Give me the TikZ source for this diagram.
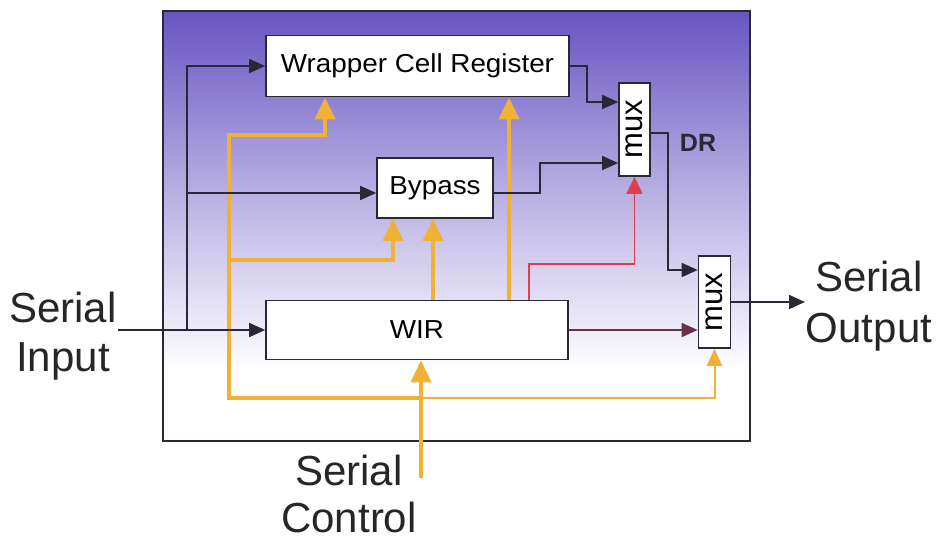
\documentclass[tikz,border=0pt]{standalone}
\usepackage{fontspec}
\setmainfont{Liberation Sans}
\newfontfamily\boxfont{Liberation Sans}[FakeStretch=1.07]
\usetikzlibrary{arrows.meta}
\definecolor{ln}{RGB}{40,40,55}
\definecolor{org}{RGB}{240,178,52}
\definecolor{rd}{RGB}{226,62,82}
\definecolor{mar}{RGB}{105,50,70}
\definecolor{purp}{RGB}{104,84,194}
\begin{document}
\begin{tikzpicture}[x=1pt,y=-1pt,
  box/.style={draw=ln, line width=1.6pt, fill=white, inner sep=0pt, font=\boxfont\fontsize{26}{30}\selectfont},
  muxbox/.style={draw=ln, line width=1.6pt, fill=white, inner sep=0pt, minimum width=31pt, minimum height=93pt},
  muxtxt/.style={rotate=90, inner sep=0pt, font=\fontsize{31}{33}\selectfont},
  big/.style={inner sep=0pt, align=center, text=black!85},
  sig/.style={draw=ln, line width=1.6pt, -{Triangle[length=16pt,width=14pt]}},
  sigm/.style={draw=mar, line width=1.6pt, -{Triangle[length=16pt,width=14pt]}},
  redl/.style={draw=rd, line width=1.6pt, -{Triangle[length=17pt,width=16pt]}},
  orgk/.style={draw=org, line width=3.5pt, -{Triangle[length=22pt,width=20pt]}},
  orgt/.style={draw=org, line width=2pt, -{Triangle[length=17pt,width=15pt]}}]
\useasboundingbox (0,0) rectangle (938,541);
\fill[white] (0,0) rectangle (938,541);
% background
\shade[top color=purp, bottom color=white, middle color=purp!47] (163,11) rectangle (750,372);
\node[draw=ln, line width=1.6pt, inner sep=0pt, minimum width=587pt, minimum height=430pt] (frame) at (456.5,226) {};
% boxes
\node[box, minimum width=303pt, minimum height=61pt] (wcr) at (417.5,66) {Wrapper Cell Register};
\node[box, minimum width=116pt, minimum height=60pt] (byp) at (435,188) {Bypass};
\node[box, minimum width=302pt, minimum height=59pt] (wir) at (417,330) {WIR};
\node[muxbox] (muxa) at (634.5,129.5) {};
\node[muxtxt] (muxatext) at (muxa) {mux};
\node[muxbox, minimum width=32pt, minimum height=92pt] (muxb) at (714.5,302) {};
\node[muxtxt] (muxbtext) at (muxb) {mux};
\node[inner sep=0pt, font=\bfseries\fontsize{25}{30}\selectfont, text=ln] (dr) at (698,142.5) {DR};
% outer labels
\node[big, font=\fontsize{42}{49}\selectfont] (sin) at (63,336.5) {Serial\\Input};
\node[big, font=\fontsize{42}{51}\selectfont] (sout) at (869,306.5) {Serial\\Output};
\node[big, font=\fontsize{42}{47}\selectfont] (sctl) at (349,494) {Serial\\Control};
\coordinate (sinend) at (118,330);
\coordinate (soutend) at (805,302);
\coordinate (sctlend) at (421,478);
\coordinate (j) at (187,330);
\coordinate (jb) at (187,193);
% orange
\draw[orgt] (sctlend |- 0,398) -- (muxb.south |- 0,398) -- (muxb.south);
\draw[orgk] (sctlend |- 0,398) -| (229,135) -| (wcr.south -| 325,0);
\draw[orgk] (229,260) -| (byp.south -| 393,0);
\draw[orgk] (wir.north -| 433,0) -- (byp.south -| 433,0);
\draw[orgk] (wir.north -| 509,0) -- (wcr.south -| 509,0);
\draw[orgk] (sctlend) -- (wir.south -| sctlend);
% black connectors
\draw[sig] (sinend) -- (sinend -| wir.west);
\draw[sig] (j) |- (wcr.west);
\draw[sig] (jb) -- (jb -| byp.west);
\draw[sig] (wcr.east) -| (587,102) -- (muxa.west |- 0,102);
\draw[sig] (byp.east |- 0,193) -| (540,163) -- (muxa.west |- 0,163);
\draw[sig] (muxa.east |- 0,133) -| (668,270) -- (muxb.west |- 0,270);
\draw[sigm] (wir.east) -- (muxb.west |- wir.east);
\draw[sig] (muxb.east) -- (soutend);
% red
\draw[redl] (wir.north -| 529,0) |- (muxa.south |- 0,264) -- (muxa.south);
\end{tikzpicture}
\end{document}
